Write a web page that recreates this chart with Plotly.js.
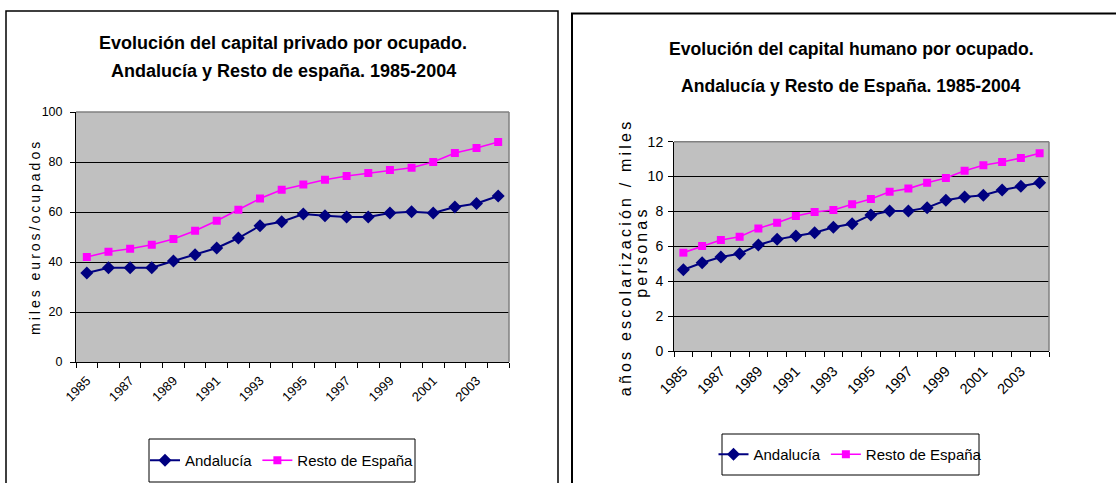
<!DOCTYPE html>
<html>
<head>
<meta charset="utf-8">
<script src="https://cdn.plot.ly/plotly-3.0.1.min.js"></script>
<style>
html,body{margin:0;padding:0;background:#fff;}
#chart{width:1116px;height:483px;}
</style>
</head>
<body>
<div id="chart"></div>
<script>
// ---- data ----
const years = [1985,1986,1987,1988,1989,1990,1991,1992,1993,1994,1995,1996,1997,1998,1999,2000,2001,2002,2003,2004];
const tickLabels = ['1985','1987','1989','1991','1993','1995','1997','1999','2001','2003'];

// capital privado por ocupado (miles euros/ocupados)
const privAndalucia = [35.6,37.7,37.7,37.7,40.4,42.9,45.6,49.6,54.5,56.1,59.2,58.5,58.0,58.0,59.6,60.1,59.6,62.0,63.4,66.4];
const privResto     = [42.0,44.1,45.3,46.9,49.2,52.5,56.5,60.9,65.4,68.9,71.0,72.9,74.4,75.6,76.8,77.7,80.0,83.6,85.6,88.0];

// capital humano por ocupado (años escolarización / miles personas)
const humAndalucia = [4.66,5.06,5.39,5.58,6.08,6.40,6.59,6.78,7.09,7.30,7.80,8.03,8.03,8.22,8.64,8.83,8.93,9.23,9.44,9.65];
const humResto     = [5.64,6.02,6.36,6.55,7.03,7.36,7.74,7.97,8.08,8.41,8.72,9.13,9.31,9.65,9.92,10.34,10.65,10.84,11.06,11.34];

const seriesNames = ['Andalucía','Resto de España'];

// ---- helpers ----
const W = 1116, H = 483;
const px = v => v / W;
const py = v => 1 - v / H;
const SANS = '"Liberation Sans", Arial, sans-serif';
const NAVY = '#000080', MAG = '#FF00FF';

function trace(y, i, xa, ya, lg) {
  return {
    x: years, y: y, name: seriesNames[i], type: 'scatter', mode: 'lines+markers',
    xaxis: xa, yaxis: ya, legend: lg, showlegend: true,
    line: {color: i === 0 ? NAVY : MAG, width: i === 0 ? 2 : 1.6},
    marker: {symbol: i === 0 ? 'diamond' : 'square', size: i === 0 ? 10 : 8, color: i === 0 ? NAVY : MAG}
  };
}

const data = [
  trace(privAndalucia, 0, 'x', 'y', 'legend'),
  trace(privResto, 1, 'x', 'y', 'legend'),
  trace(humAndalucia, 0, 'x2', 'y2', 'legend2'),
  trace(humResto, 1, 'x2', 'y2', 'legend2')
];

function xax(domain, fs, standoff) {
  return {
    domain: domain, type: 'linear', range: [1984.5, 2004.5],
    tickmode: 'array', tickvals: tickLabels.map(Number), ticktext: tickLabels,
    tickangle: -45, ticks: '', showgrid: false, zeroline: false,
    showline: true, linecolor: '#000', linewidth: 1,
    ticklabelstandoff: standoff,
    tickfont: {family: SANS, size: fs, color: '#000'},
    minor: {ticks: 'outside', tick0: 1984.5, dtick: 1, ticklen: 5, tickcolor: '#000', tickwidth: 1, showgrid: false},
    fixedrange: true
  };
}
function yax(domain, range, dt, fs, anchor, standoff) {
  return {
    domain: domain, range: range, dtick: dt, anchor: anchor,
    ticks: 'outside', ticklen: 5, tickcolor: '#000',
    showline: true, linecolor: '#000', linewidth: 1,
    showgrid: true, gridcolor: '#000', gridwidth: 1, zeroline: false,
    ticklabelstandoff: standoff,
    tickfont: {family: SANS, size: fs, color: '#000'},
    fixedrange: true
  };
}

const L = {x0: 76, x1: 509, y0: 112, y1: 362};
const R = {x0: 674, x1: 1049, y0: 141.7, y1: 351};

const layout = {
  width: W, height: H,
  margin: {l: 0, r: 0, t: 0, b: 0},
  paper_bgcolor: '#fff', plot_bgcolor: '#C0C0C0',
  xaxis: Object.assign(xax([px(L.x0), px(L.x1)], 13, 5), {anchor: 'y'}),
  yaxis: yax([py(L.y1), py(L.y0)], [0, 100], 20, 12.5, 'x', 5),
  xaxis2: Object.assign(xax([px(R.x0), px(R.x1)], 14.5, 5), {anchor: 'y2'}),
  yaxis2: yax([py(R.y1), py(R.y0)], [0, 12], 2, 14, 'x2', 2),
  legend: {
    x: px(282), y: py(460.5), xanchor: 'center', yanchor: 'middle',
    orientation: 'h', bgcolor: 'rgba(0,0,0,0)', borderwidth: 0,
    font: {family: SANS, size: 15, color: '#000'}, itemwidth: 30
  },
  legend2: {
    x: px(850.5), y: py(454.5), xanchor: 'center', yanchor: 'middle',
    orientation: 'h', bgcolor: 'rgba(0,0,0,0)', borderwidth: 0,
    font: {family: SANS, size: 15, color: '#000'}, itemwidth: 30
  },
  shapes: [
    // chart frames
    {type: 'rect', xref: 'paper', yref: 'paper', x0: px(6), x1: px(558), y0: py(500), y1: py(11), line: {color: '#000', width: 1.5}},
    {type: 'rect', xref: 'paper', yref: 'paper', x0: px(572), x1: px(1130), y0: py(500), y1: py(13.5), line: {color: '#000', width: 2}},
    // plot-area gray edges (top, right)
    {type: 'line', xref: 'x domain', yref: 'y domain', x0: 0, x1: 1, y0: 1, y1: 1, line: {color: '#808080', width: 1.5}},
    {type: 'line', xref: 'x domain', yref: 'y domain', x0: 1, x1: 1, y0: 0, y1: 1, line: {color: '#808080', width: 1.5}},
    {type: 'line', xref: 'x2 domain', yref: 'y2 domain', x0: 0, x1: 1, y0: 1, y1: 1, line: {color: '#808080', width: 1.5}},
    {type: 'line', xref: 'x2 domain', yref: 'y2 domain', x0: 1, x1: 1, y0: 0, y1: 1, line: {color: '#808080', width: 1.5}},
    // legend boxes
    {type: 'rect', xref: 'paper', yref: 'paper', x0: px(149), x1: px(415), y0: py(482), y1: py(439), line: {color: '#000', width: 1}},
    {type: 'rect', xref: 'paper', yref: 'paper', x0: px(722), x1: px(979), y0: py(475), y1: py(434), line: {color: '#000', width: 1}}
  ],
  annotations: [
    {text: 'Evolución del capital privado por ocupado.', xref: 'paper', yref: 'paper', x: px(283), y: py(43), xanchor: 'center', yanchor: 'middle', showarrow: false,
     font: {family: SANS, size: 18, weight: 700, color: '#000'}},
    {text: 'Andalucía y Resto de españa. 1985-2004', xref: 'paper', yref: 'paper', x: px(283), y: py(71), xanchor: 'center', yanchor: 'middle', showarrow: false,
     font: {family: SANS, size: 18, weight: 700, color: '#000'}},
    {text: 'Evolución del capital humano por ocupado.', xref: 'paper', yref: 'paper', x: px(851), y: py(49), xanchor: 'center', yanchor: 'middle', showarrow: false,
     font: {family: SANS, size: 17.6, weight: 700, color: '#000'}},
    {text: 'Andalucía y Resto de España. 1985-2004', xref: 'paper', yref: 'paper', x: px(851), y: py(86), xanchor: 'center', yanchor: 'middle', showarrow: false,
     font: {family: SANS, size: 17.6, weight: 700, color: '#000'}},
    // y axis titles
    {text: 'miles euros/ocupados', xref: 'paper', yref: 'paper', x: px(35), y: py(237), xanchor: 'center', yanchor: 'middle', textangle: -90, showarrow: false,
     font: {family: SANS, size: 14, color: '#000'}},
    {text: 'años escolarización / miles', xref: 'paper', yref: 'paper', x: px(625), y: py(258), xanchor: 'center', yanchor: 'middle', textangle: -90, showarrow: false,
     font: {family: SANS, size: 16, color: '#000'}},
    {text: 'personas', xref: 'paper', yref: 'paper', x: px(641), y: py(252), xanchor: 'center', yanchor: 'middle', textangle: -90, showarrow: false,
     font: {family: SANS, size: 16, color: '#000'}}
  ]
};

Plotly.newPlot('chart', data, layout, {displayModeBar: false, staticPlot: true}).then(function () {
  const spacing = {4: '3px', 5: '3.2px', 6: '3.2px'};
  document.querySelectorAll('#chart g.annotation').forEach(function (g) {
    const idx = g.getAttribute('data-index');
    if (spacing[idx]) {
      g.querySelectorAll('text').forEach(function (t) { t.style.letterSpacing = spacing[idx]; });
    }
  });
});
</script>
</body>
</html>
